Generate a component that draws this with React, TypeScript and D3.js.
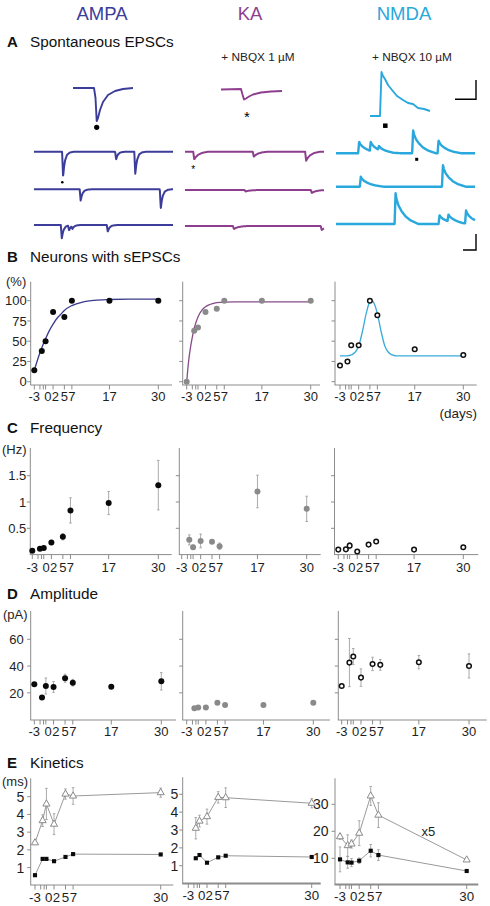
import React from "react";
import * as d3 from "d3";

const FONT = "'Liberation Sans', Arial, Helvetica, sans-serif";

// ---------- colours ----------
const COL_AMPA = "#3c3c9a";
const COL_KA = "#8d3f8d";
const COL_NMDA = "#29a8dd";
const CURVE_AMPA = "#3a3a8c";
const CURVE_KA = "#874b87";
const CURVE_NMDA = "#38aadc";
const GREY = "#8a8a8a";
const ERR = "#a2a2a2";
const AX = "#8c8c8c";

// ---------- headers ----------
const HEADERS = ["AMPA", "KA", "NMDA"];
const HEADER_COLORS = [COL_AMPA, COL_KA, COL_NMDA];
const DRUGS = ["+ NBQX 1 µM", "+ NBQX 10 µM"];

// ---------- panel A : averaged events (t, current) ----------
const AMPA_AVG_T = [0, 21, 22.5, 23.7, 25, 27, 30, 35, 42, 50, 60];
const AMPA_AVG_V = [0, 0, -10, -33, -30, -22, -14, -7, -3, -1, 0];
const KA_AVG_T = [0, 20, 21.5, 23, 25, 28, 32, 40, 50, 61];
const KA_AVG_V = [0, 0.5, -5, -10, -9, -7, -5, -3, -2, -1.5];
const NMDA_AVG_T = [0, 10, 11.5, 13, 15, 18, 22, 27, 33, 38, 43, 48, 54, 60];
const NMDA_AVG_V = [0, 0, 44, 40, 37, 31, 26, 20, 16, 13, 12, 8, 7, 5];

// ---------- panel A : spontaneous events in raw traces [time, amplitude] ----------
const AMPA_EVENTS = [
  [[28.3, 25], [81.7, 7.6], [101, 22]],
  [[46, 11.3], [126.7, 19]],
  [[27, 13.3], [34.3, 5], [37.7, 3], [73.3, 6.7]],
];
const KA_EVENTS = [
  [[8.3, 7.7], [68.3, 5], [121, 9]],
  [[60, 1.5], [126.7, 3]],
  [[48.3, 3], [136.7, 4]],
];
const NMDA_EVENTS = [
  [[22.3, 11.7], [34, 9], [42.3, 4], [76.7, 23], [102.3, 13]],
  [[24, 10], [106.7, 21.7]],
  [[59, 30.7], [103.3, 9], [112.3, 7], [130, 13]],
];
// event waveform templates [time after onset, fraction of amplitude]
const AMPA_SHAPE = [[0, 0], [1, 1], [2, 0.6], [3, 0.35], [5, 0.12], [8, 0.03], [12, 0]];
const KA_SHAPE = [[0, 0], [1, 1], [2.5, 0.7], [5, 0.4], [9, 0.15], [15, 0]];
const NMDA_SHAPE = [[0, 0], [1, 1], [2, 0.8], [4, 0.6], [7, 0.42], [11, 0.25], [16, 0.12], [24, 0]];

// ---------- ages ----------
const DAYS = [-3, -1, 0, 2, 5, 7, 17, 30];
const DAYS_KA = [-1, 0, 2, 5, 7, 17, 30];
const DAYS_E = [-3, -1, 0, 2, 5, 7, 30];
const DAYS_E_KA = [-1, 0, 2, 5, 7, 30];
const X_TICKS = [-3, -1.5, -0.6, 0, 2, 5, 7, 17, 30];
const X_TICKS_E = [-3, -1.5, -0.6, 0, 2, 5, 7, 30];
const X_LABEL_TXT = ["-3", "0", "2", "5", "7", "17", "30"];
const X_LABEL_AT = [-3, 0.6, 2.6, 5, 7, 17, 30];
const X_LABEL_TXT_E = ["-3", "0", "2", "5", "7", "30"];
const X_LABEL_AT_E = [-3, 0.6, 2.6, 5, 7.1, 30];

// ---------- B: neurons with sEPSCs (%) ----------
const B_AMPA = [14, 38, 50, 86, 80, 100, 100, 100];
const B_KA = [0, 63, 67, 86, 90, 100, 100, 100];
const B_NMDA = [20, 25, 45, 45, 100, 82, 40, 33];
const FIT_AMPA_X = [-3, -2, -1, 0, 1, 2, 3, 4, 5, 7, 10, 13, 17, 22, 30];
const FIT_AMPA_Y = [14, 29, 42, 53, 63, 71, 78, 83, 88, 94, 98.5, 100.5, 101.5, 102, 102];
const FIT_KA_X = [-3, -2.5, -2, -1.5, -1, 0, 1, 2, 3, 5, 7, 10, 17, 30];
const FIT_KA_Y = [0, 25, 42, 55, 66, 80, 88, 92.5, 95, 97.5, 98.3, 98.5, 98.5, 98.5];
const FIT_NMDA_X = [-3, -1, 0, 1, 2, 3, 4, 5, 5.5, 6, 7, 8, 9, 10, 11, 12, 17, 30];
const FIT_NMDA_Y = [32, 32, 33, 36, 44, 62, 84, 99, 100.5, 98, 84, 62, 44, 36, 33, 32, 32, 32];
const B_YTICKS = [0, 25, 50, 75, 100];

// ---------- C: frequency (Hz) ----------
const C_AMPA = [0.075, 0.11, 0.125, 0.23, 0.34, 0.84, 0.98, 1.32];
const C_AMPA_ERR = [0.01, 0.015, 0.015, 0.04, 0.06, 0.24, 0.22, 0.47];
const C_KA = [0.28, 0.14, 0.26, 0.245, 0.16, 1.2, 0.87];
const C_KA_ERR = [0.095, 0.04, 0.13, 0.02, 0.06, 0.31, 0.24];
const C_NMDA = [0.095, 0.1, 0.17, 0.06, 0.19, 0.25, 0.095, 0.14];
const C_NMDA_ERR = [0.01, 0.02, 0.06, 0.01, 0.03, 0.03, 0.01, 0.02];
const C_YTICKS = [0.5, 1, 1.5];

// ---------- D: amplitude (pA) ----------
const D_AMPA = [26.4, 16.6, 25.1, 24.4, 30.9, 27.6, 24.6, 28.6];
const D_AMPA_ERR = [1, 1, 6, 4, 3, 2.5, 1, 6.5];
const D_KA = [8.4, 9.1, 9.1, 12.6, 10.9, 10.9, 12.6];
const D_NMDA = [25.1, 42.6, 47.1, 31.4, 41.6, 40.9, 42.9, 40.1];
const D_NMDA_ERR = [0.5, 18, 6, 6.5, 5, 4, 5, 9];
const D_YTICKS = [20, 40, 60];

// ---------- E: kinetics (ms) ----------
const E_AMPA_DECAY = [2.4, 3.65, 4.59, 3.45, 5.15, 5.04, 5.23];
const E_AMPA_DECAY_ERR = [0.05, 0.33, 0.88, 0.59, 0.29, 0.47, 0.26];
const E_AMPA_RISE = [0.57, 1.49, 1.49, 1.36, 1.6, 1.76, 1.74];
const E_AMPA_RISE_ERR = [0.03, 0.08, 0.08, 0.05, 0.08, 0.06, 0.05];
const E_KA_DECAY = [3.1, 3.5, 3.75, 4.83, 4.81, 4.5];
const E_KA_DECAY_ERR = [0.6, 0.33, 0.42, 0.32, 0.55, 0.26];
const E_KA_RISE = [1.42, 1.6, 1.17, 1.47, 1.56, 1.49];
const E_KA_RISE_ERR = [0.05, 0.05, 0.05, 0.05, 0.05, 0.05];
const E_NMDA_DECAY = [18, 14.7, 15.3, 19.3, 33.1, 26, 9.4];
const E_NMDA_DECAY_ERR = [1, 4, 1.5, 4.6, 3.5, 4.6, 0];
const E_NMDA_RISE = [9.6, 8.5, 8.4, 9.1, 12.8, 11.2, 5.3];
const E_NMDA_RISE_ERR = [4.6, 2.2, 1.5, 1, 2.3, 2, 0];
const E_YTICKS_AK = [1, 2, 3, 4, 5];
const E_YTICKS_N = [10, 20, 30];

// ---------- layout ----------
type L = {
  ax: number; xEnd: number; xa: number; xb: number; top: number; axisY: number;
  v0: number; y0: number; v1: number; y1: number;
};
const mk = (ax: number, xEnd: number, xa: number, xb: number, top: number, axisY: number,
  v0: number, y0: number, v1: number, y1: number): L => ({ ax, xEnd, xa, xb, top, axisY, v0, y0, v1, y1 });

const LB = [
  mk(30.7, 172, 34.3, 158.3, 281.7, 385, 0, 381.7, 100, 300.7),
  mk(182.7, 320, 186.7, 310.7, 281.7, 385, 0, 381.7, 100, 300.7),
  mk(335, 476.7, 340, 463.3, 281.7, 385, 0, 381.7, 100, 300.7),
];
const LC = [
  mk(30.3, 171.7, 32.3, 158.3, 448, 554.6, 0, 554.6, 1.5, 475.7),
  mk(179.3, 320.7, 181.7, 306.7, 448, 554.6, 0, 554.6, 1.5, 475.7),
  mk(334.5, 478.3, 338.3, 463.3, 448, 554.6, 0, 554.6, 1.5, 475.7),
];
const LD = [
  mk(30.7, 176, 34.3, 161.3, 611, 720, 0, 719.6, 60, 639.3),
  mk(182.7, 330, 186.7, 313.3, 611, 720, 0, 719.6, 60, 639.3),
  mk(338.3, 486.7, 341.7, 469, 611, 720, 0, 719.6, 60, 639.3),
];
const LE = [
  mk(30.7, 173.3, 35, 160.7, 778.3, 885, 0, 885.3, 5, 796.7),
  mk(182.7, 320.7, 188.3, 311.7, 777.3, 883.5, 0, 883.6, 5, 794.3),
  mk(335, 478.3, 340, 466.7, 778.3, 884.5, 0, 885.3, 30, 804.3),
];

function sc(l: L) {
  const x = d3.scaleLinear().domain([-3, 30]).range([l.xa, l.xb]);
  const y = d3.scaleLinear().domain([l.v0, l.v1]).range([l.y0, l.y1]);
  return { x, y };
}

function Axes(props: {
  l: L; yTicks: number[]; showY: boolean; xTicks: number[]; labAt: number[]; labTxt: string[];
  fs: number; yfs?: number; yGap: number; labOff: number; axW?: number;
}) {
  const { l, yTicks, showY, xTicks, labAt, labTxt, fs, yGap, labOff } = props;
  const { x, y } = sc(l);
  return (
    <g fontFamily={FONT} fontSize={fs} fill="#1e1e1e">
      <line x1={l.ax} x2={l.ax} y1={l.top} y2={l.axisY} stroke={AX} strokeWidth={1} />
      <line x1={l.ax - 0.5} x2={l.xEnd} y1={l.axisY} y2={l.axisY} stroke={AX} strokeWidth={props.axW || 1} />
      {yTicks.map((t) => (
        <line key={"yt" + t} x1={l.ax - 3.5} x2={l.ax} y1={y(t)} y2={y(t)} stroke={AX} />
      ))}
      {showY && yTicks.map((t) => (
        <text key={"yl" + t} x={l.ax - yGap} y={y(t)} dy="0.36em" textAnchor="end" fontSize={props.yfs || fs}>{String(t)}</text>
      ))}
      {xTicks.map((t) => (
        <line key={"xt" + t} x1={x(t)} x2={x(t)} y1={l.axisY} y2={l.axisY + 4.5} stroke={AX} />
      ))}
      {labAt.map((t, i) => (
        <text key={"xl" + i} x={x(t)} y={l.axisY + labOff} textAnchor="middle">{labTxt[i]}</text>
      ))}
    </g>
  );
}

type Kind = "black" | "grey" | "open";

function Points(props: { l: L; days: number[]; vals: number[]; err?: number[]; kind: Kind }) {
  const { l, days, vals, err, kind } = props;
  const { x, y } = sc(l);
  return (
    <g>
      {err && days.map((d, i) => err[i] > 0.02 * (l.v1 - l.v0) / 1.5 ? (
        <g key={"e" + i} stroke={ERR} strokeWidth={0.9}>
          <line x1={x(d)} x2={x(d)} y1={y(vals[i] - err[i])} y2={y(vals[i] + err[i])} />
          <line x1={x(d) - 1.3} x2={x(d) + 1.3} y1={y(vals[i] + err[i])} y2={y(vals[i] + err[i])} />
          <line x1={x(d) - 1.3} x2={x(d) + 1.3} y1={y(vals[i] - err[i])} y2={y(vals[i] - err[i])} />
        </g>
      ) : null)}
      {days.map((d, i) =>
        kind === "open" ? (
          <circle key={i} cx={x(d)} cy={y(vals[i])} r={2.3} fill="#fff" stroke="#111" strokeWidth={1.5} />
        ) : (
          <circle key={i} cx={x(d)} cy={y(vals[i])} r={3} fill={kind === "black" ? "#0a0a0a" : GREY} />
        )
      )}
    </g>
  );
}

function FitCurve(props: { l: L; xs: number[]; ys: number[]; color: string }) {
  const { x, y } = sc(props.l);
  const line = d3.line<number>().x((_, i) => x(props.xs[i])).y((v) => y(v)).curve(d3.curveMonotoneX);
  return <path d={line(props.ys) || ""} fill="none" stroke={props.color} strokeWidth={1.3} />;
}

function Kinetics(props: {
  l: L; days: number[]; decay: number[]; decayErr: number[]; rise: number[]; riseErr: number[];
}) {
  const { l, days, decay, decayErr, rise, riseErr } = props;
  const { x, y } = sc(l);
  const line = (vals: number[]) =>
    d3.line<number>().x((_, i) => x(days[i])).y((v) => y(v))(vals) || "";
  const tri = d3.symbol().type(d3.symbolTriangle).size(22)() || "";
  const sq = d3.symbol().type(d3.symbolSquare).size(17)() || "";
  const bars = (vals: number[], err: number[], key: string) =>
    days.map((d, i) => err[i] > 0 ? (
      <g key={key + i} stroke={ERR} strokeWidth={0.9}>
        <line x1={x(d)} x2={x(d)} y1={y(vals[i] - err[i])} y2={y(vals[i] + err[i])} />
        <line x1={x(d) - 1.3} x2={x(d) + 1.3} y1={y(vals[i] + err[i])} y2={y(vals[i] + err[i])} />
        <line x1={x(d) - 1.3} x2={x(d) + 1.3} y1={y(vals[i] - err[i])} y2={y(vals[i] - err[i])} />
      </g>
    ) : null);
  return (
    <g>
      {bars(decay, decayErr, "de")}
      {bars(rise, riseErr, "re")}
      <path d={line(decay)} fill="none" stroke="#9a9a9a" strokeWidth={1} />
      <path d={line(rise)} fill="none" stroke="#9a9a9a" strokeWidth={1} />
      {days.map((d, i) => (
        <path key={"t" + i} d={tri} transform={`translate(${x(d)},${y(decay[i])})`} fill="#fff" stroke="#8a8a8a" strokeWidth={1} />
      ))}
      {days.map((d, i) => (
        <path key={"s" + i} d={sq} transform={`translate(${x(d)},${y(rise[i])})`} fill="#0a0a0a" />
      ))}
    </g>
  );
}

// ---------- panel A helpers ----------
function AvgTrace(props: { ts: number[]; vs: number[]; x0: number; base: number; color: string }) {
  const x = d3.scaleLinear().domain([0, 60]).range([props.x0, props.x0 + 60]);
  const y = d3.scaleLinear().domain([0, 1]).range([props.base, props.base - 1]);
  const line = d3.line<number>().x((_, i) => x(props.ts[i])).y((v) => y(v));
  return <path d={line(props.vs) || ""} fill="none" stroke={props.color} strokeWidth={1.9} strokeLinejoin="round" />;
}

function RawTrace(props: {
  events: number[][]; shape: number[][]; x0: number; base: number; color: string; up: boolean; w: number;
}) {
  const { events, shape, x0, base, color, up, w } = props;
  const interp = d3.scaleLinear().domain(shape.map((d) => d[0])).range(shape.map((d) => d[1])).clamp(true);
  const tMax = shape[shape.length - 1][0];
  const ts = d3.range(0, 140.001, 0.25);
  const vals = ts.map((t) => {
    let v = 0;
    for (const [te, a] of events) {
      const dt = t - te;
      if (dt >= 0 && dt <= tMax) v += a * interp(dt);
    }
    return v;
  });
  const x = d3.scaleLinear().domain([0, 140]).range([x0, x0 + 139]);
  const y = d3.scaleLinear().domain([0, 1]).range([base, base + (up ? -1 : 1)]);
  const line = d3.line<number>().x((_, i) => x(ts[i])).y((v) => y(v));
  return <path d={line(vals) || ""} fill="none" stroke={color} strokeWidth={w} strokeLinejoin="round" />;
}

const RAW_X0 = [34, 185, 336];
const RAW_BASE = [
  [151.7, 189.3, 225],
  [151.7, 190, 226],
  [153.3, 186.7, 224],
];

export default function App() {
  const sqSym = (cx: number, cy: number, s: number) => (
    <rect x={cx - s / 2} y={cy - s / 2} width={s} height={s} fill="#000" />
  );
  const titles: [string, string, number][] = [
    ["A", "Spontaneous EPSCs", 47],
    ["B", "Neurons with sEPSCs", 262],
    ["C", "Frequency", 433],
    ["D", "Amplitude", 599],
    ["E", "Kinetics", 768],
  ];
  return (
    <svg
      width={490}
      height={906}
      viewBox="0 0 490 906"
      style={{ position: "absolute", left: 0, top: 0, display: "block", background: "#fff" }}
      fontFamily={FONT}
    >
      <rect x={0} y={0} width={490} height={906} fill="#fff" />

      {/* column headers */}
      {HEADERS.map((h, i) => (
        <text key={h} x={[102, 250, 404][i]} y={19.5} textAnchor="middle" fontSize={18.5} fill={HEADER_COLORS[i]}>
          {h}
        </text>
      ))}

      {/* section titles */}
      {titles.map(([l, t, y]) => (
        <g key={l} fill="#111">
          <text x={7} y={y} fontSize={15} fontWeight="bold">{l}</text>
          <text x={30} y={y} fontSize={15.3}>{t}</text>
        </g>
      ))}

      {/* ---------- panel A ---------- */}
      <text x={258} y={61} textAnchor="middle" fontSize={11.8} fill="#222">{DRUGS[0]}</text>
      <text x={412} y={61} textAnchor="middle" fontSize={11.8} fill="#222">{DRUGS[1]}</text>

      <AvgTrace ts={AMPA_AVG_T} vs={AMPA_AVG_V} x0={73} base={88} color={COL_AMPA} />
      <AvgTrace ts={KA_AVG_T} vs={KA_AVG_V} x0={221} base={89.5} color={COL_KA} />
      <AvgTrace ts={NMDA_AVG_T} vs={NMDA_AVG_V} x0={370} base={116} color={COL_NMDA} />

      <circle cx={96.7} cy={127.3} r={2.6} fill="#000" />
      <text x={247} y={122} textAnchor="middle" fontSize={15} fill="#000">*</text>
      {sqSym(385.3, 125.7, 4.5)}

      {/* scale bars */}
      <path d="M476,80 L476,99.3 L455,99.3" fill="none" stroke="#000" strokeWidth={1.4} />
      <path d="M476,234 L476,250 L463,250" fill="none" stroke="#000" strokeWidth={1.4} />

      {AMPA_EVENTS.map((ev, r) => (
        <RawTrace key={"ra" + r} events={ev} shape={AMPA_SHAPE} x0={RAW_X0[0]} base={RAW_BASE[0][r]} color={COL_AMPA} up={false} w={2} />
      ))}
      {KA_EVENTS.map((ev, r) => (
        <RawTrace key={"rk" + r} events={ev} shape={KA_SHAPE} x0={RAW_X0[1]} base={RAW_BASE[1][r]} color={COL_KA} up={false} w={2} />
      ))}
      {NMDA_EVENTS.map((ev, r) => (
        <RawTrace key={"rn" + r} events={ev} shape={NMDA_SHAPE} x0={RAW_X0[2]} base={RAW_BASE[2][r]} color={COL_NMDA} up={true} w={2.4} />
      ))}
      <circle cx={62.3} cy={182.3} r={1.3} fill="#000" />
      <text x={193.3} y={173} textAnchor="middle" fontSize={10} fill="#000">*</text>
      {sqSym(416.7, 159.3, 3)}

      {/* ---------- panel B ---------- */}
      <text x={6} y={285.5} fontSize={13} fill="#1e1e1e">(%)</text>
      {LB.map((l, i) => (
        <Axes key={"ab" + i} l={l} yTicks={B_YTICKS} showY={i === 0} xTicks={X_TICKS} labAt={X_LABEL_AT} labTxt={X_LABEL_TXT} fs={13} yGap={4} labOff={16} />
      ))}
      <FitCurve l={LB[0]} xs={FIT_AMPA_X} ys={FIT_AMPA_Y} color={CURVE_AMPA} />
      <FitCurve l={LB[1]} xs={FIT_KA_X} ys={FIT_KA_Y} color={CURVE_KA} />
      <FitCurve l={LB[2]} xs={FIT_NMDA_X} ys={FIT_NMDA_Y} color={CURVE_NMDA} />
      <Points l={LB[0]} days={DAYS} vals={B_AMPA} kind="black" />
      <Points l={LB[1]} days={DAYS} vals={B_KA} kind="grey" />
      <Points l={LB[2]} days={DAYS} vals={B_NMDA} kind="open" />
      <text x={477} y={417.5} textAnchor="end" fontSize={13.5} fill="#1e1e1e">(days)</text>

      {/* ---------- panel C ---------- */}
      <text x={2} y={454} fontSize={13} fill="#1e1e1e">(Hz)</text>
      {LC.map((l, i) => (
        <Axes key={"ac" + i} l={l} yTicks={C_YTICKS} showY={i === 0} xTicks={X_TICKS} labAt={X_LABEL_AT} labTxt={X_LABEL_TXT} fs={13} yGap={4} labOff={17} />
      ))}
      <Points l={LC[0]} days={DAYS} vals={C_AMPA} err={C_AMPA_ERR} kind="black" />
      <Points l={LC[1]} days={DAYS_KA} vals={C_KA} err={C_KA_ERR} kind="grey" />
      <Points l={LC[2]} days={DAYS} vals={C_NMDA} err={C_NMDA_ERR} kind="open" />

      {/* ---------- panel D ---------- */}
      <text x={3} y={619} fontSize={13} fill="#1e1e1e">(pA)</text>
      {LD.map((l, i) => (
        <Axes key={"ad" + i} l={l} yTicks={D_YTICKS} showY={i === 0} xTicks={X_TICKS} labAt={X_LABEL_AT} labTxt={X_LABEL_TXT} fs={13} yGap={7} labOff={16} />
      ))}
      <Points l={LD[0]} days={DAYS} vals={D_AMPA} err={D_AMPA_ERR} kind="black" />
      <Points l={LD[1]} days={DAYS_KA} vals={D_KA} kind="grey" />
      <Points l={LD[2]} days={DAYS} vals={D_NMDA} err={D_NMDA_ERR} kind="open" />

      {/* ---------- panel E ---------- */}
      <text x={2} y={786} fontSize={13} fill="#1e1e1e">(ms)</text>
      <Axes l={LE[0]} yTicks={E_YTICKS_AK} showY={true} xTicks={X_TICKS_E} labAt={X_LABEL_AT_E} labTxt={X_LABEL_TXT_E} fs={13.3} yfs={14} yGap={6.5} labOff={16.5} />
      <Axes l={LE[1]} yTicks={E_YTICKS_AK} showY={true} xTicks={X_TICKS_E} labAt={X_LABEL_AT_E} labTxt={X_LABEL_TXT_E} fs={13.3} yfs={14} yGap={4.5} labOff={16.5} axW={1.8} />
      <Axes l={LE[2]} yTicks={E_YTICKS_N} showY={true} xTicks={X_TICKS_E} labAt={X_LABEL_AT_E} labTxt={X_LABEL_TXT_E} fs={13.3} yfs={14} yGap={6.5} labOff={16.5} axW={1.8} />
      <Kinetics l={LE[0]} days={DAYS_E} decay={E_AMPA_DECAY} decayErr={E_AMPA_DECAY_ERR} rise={E_AMPA_RISE} riseErr={E_AMPA_RISE_ERR} />
      <Kinetics l={LE[1]} days={DAYS_E_KA} decay={E_KA_DECAY} decayErr={E_KA_DECAY_ERR} rise={E_KA_RISE} riseErr={E_KA_RISE_ERR} />
      <Kinetics l={LE[2]} days={DAYS_E} decay={E_NMDA_DECAY} decayErr={E_NMDA_DECAY_ERR} rise={E_NMDA_RISE} riseErr={E_NMDA_RISE_ERR} />
      <text x={421.5} y={836} fontSize={13} fill="#1e1e1e">x5</text>
    </svg>
  );
}
